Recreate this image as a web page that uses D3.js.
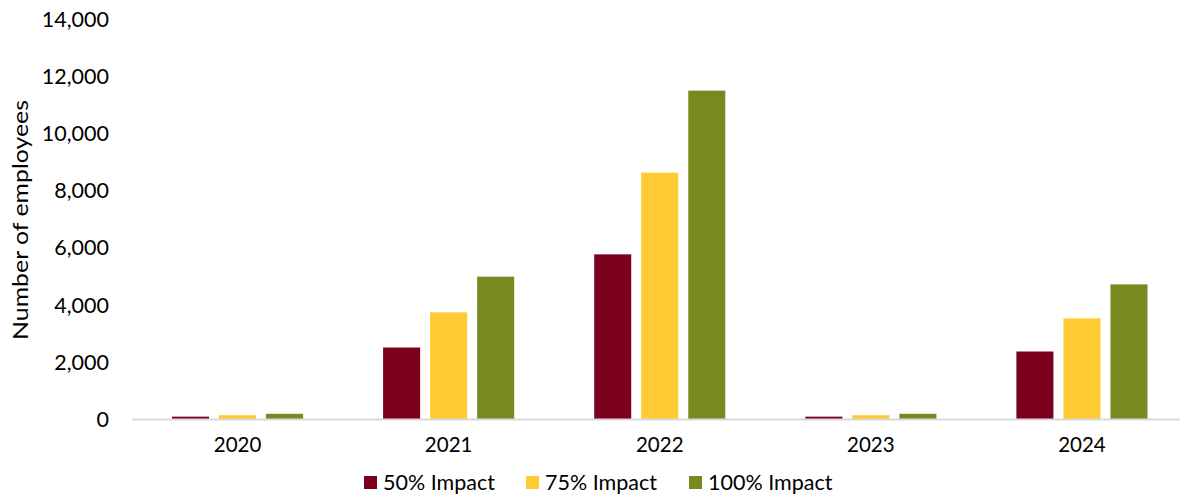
<!DOCTYPE html>
<html><head><meta charset="utf-8">
<script src="https://cdn.jsdelivr.net/npm/d3@7"></script>
<style>body{margin:0;background:#fff}svg{display:block;font-family:Lato,"Open Sans",sans-serif}</style>
</head><body><svg id="c" width="1180" height="495"></svg>
<script>
const categories = ["2020","2021","2022","2023","2024"];
const seriesNames = ["50% Impact","75% Impact","100% Impact"];
const impact50 = [100, 2520, 5780, 100, 2380];
const impact75 = [150, 3750, 8640, 150, 3540];
const impact100 = [200, 5000, 11510, 200, 4730];
const yTicks = [0,2000,4000,6000,8000,10000,12000,14000];
const colors = ["#7B001C","#FFCA32","#788920"];

const svg = d3.select("#c");
const series = [impact50, impact75, impact100];
const x = d3.scaleBand().domain(categories).range([132,1187.5]).paddingInner(0.379).paddingOuter(0.1895);
const xs = d3.scaleBand().domain(seriesNames).range([0,x.bandwidth()]).paddingInner(0.2128);
const y = d3.scaleLinear().domain([0,14000]).range([419.5,19.5]);

// bars
const g = svg.append("g");
categories.forEach((c,i)=>{
  seriesNames.forEach((s,j)=>{
    g.append("rect").attr("x",x(c)+xs(s)).attr("width",xs.bandwidth())
     .attr("y",y(series[j][i])).attr("height",y(0)-y(series[j][i])).attr("fill",colors[j]);
  });
});

// x axis line
svg.append("line").attr("x1",132).attr("x2",1187.5).attr("y1",y(0)).attr("y2",y(0)).attr("stroke","#d9d9d9").attr("stroke-width",2);

// y axis labels
const fmt = d3.format(",");
const yAxis = d3.axisLeft(y).tickValues(yTicks).tickFormat(fmt).tickSize(0).tickPadding(0);
const ya = svg.append("g").attr("transform","translate(109,0)").call(yAxis);
ya.select(".domain").remove();
ya.selectAll("text").attr("font-size",21.5).attr("fill","#000").attr("font-family","Lato,sans-serif");

// x axis labels
const xAxis = d3.axisBottom(x).tickSize(0).tickPadding(0);
const xa = svg.append("g").attr("transform","translate(0,437)").call(xAxis);
xa.select(".domain").remove();
xa.selectAll("text").attr("font-size",20.5).attr("fill","#000").attr("font-family","Lato,sans-serif");

// y title
svg.append("text").attr("transform","translate(28,220) rotate(-90)").attr("text-anchor","middle")
  .attr("font-size",22).attr("textLength",240).attr("lengthAdjust","spacingAndGlyphs")
  .attr("fill","#000").text("Number of employees");

// legend
const legX = [364, 526, 689];
seriesNames.forEach((s,j)=>{
  svg.append("rect").attr("x",legX[j]).attr("y",476).attr("width",13).attr("height",13).attr("fill",colors[j]);
  svg.append("text").attr("x",legX[j]+19).attr("y",490).attr("font-size",21.5).attr("fill","#000").text(s);
});
</script></body></html>
